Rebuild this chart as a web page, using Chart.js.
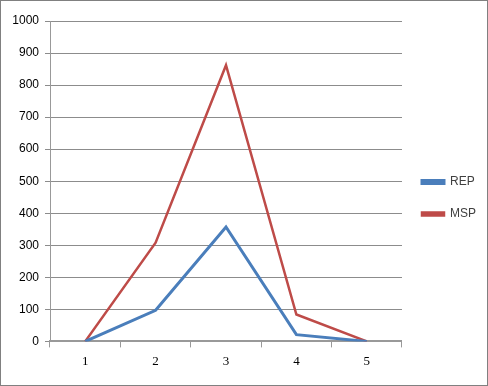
<!DOCTYPE html>
<html>
<head>
<meta charset="utf-8">
<script src="https://cdn.jsdelivr.net/npm/chart.js@4/dist/chart.umd.min.js"></script>
<style>
  html, body { margin: 0; padding: 0; background: #fff; }
  #wrap { width: 486px; height: 384px; border: 1px solid #808080; }
</style>
</head>
<body>
<div id="wrap"><canvas id="grafico" width="486" height="384"></canvas></div>
<script>
// datos del grafico
var categorias = ['1', '2', '3', '4', '5'];
var valoresREP = [0, 97, 357, 21, 0];
var valoresMSP = [0, 308, 862, 84, 0];
var ticksY = [0, 100, 200, 300, 400, 500, 600, 700, 800, 900, 1000];

var ctx = document.getElementById('grafico');

var dataLineas = {
    labels: categorias,
    datasets: [
        {
            label: 'REP',
            data: valoresREP,
            borderColor: '#4a7ebb',
            backgroundColor: '#4a7ebb',
            borderWidth: 3,
            pointRadius: 0,
            tension: 0
        },
        {
            label: 'MSP',
            data: valoresMSP,
            borderColor: '#be4b48',
            backgroundColor: '#be4b48',
            borderWidth: 2.5,
            pointRadius: 0,
            tension: 0
        }
    ]
};

var opciones = {
    responsive: false,
    animation: false,
    layout: { padding: { top: 20, right: 1, bottom: 10, left: 0 } },
    plugins: {
        tooltip: { enabled: false },
        legend: {
            position: 'right',
            labels: {
                boxWidth: 22,
                boxHeight: 3,
                padding: 20,
                color: '#404040',
                font: { family: 'Liberation Sans', size: 12 }
            }
        }
    },
    scales: {
        x: {
            offset: true,
            grid: {
                offset: true,
                drawOnChartArea: false,
                drawTicks: true,
                tickLength: 6,
                color: '#999999'
            },
            border: { color: '#999999', width: 2 },
            ticks: {
                color: '#000',
                padding: 6,
                font: { family: 'Liberation Serif', size: 13 }
            }
        },
        y: {
            min: 0,
            max: 1000,
            afterBuildTicks: function (s) {
                s.ticks = ticksY.map(function (v) { return { value: v }; });
            },
            afterFit: function (s) { s.width = 49; },
            grid: {
                color: '#8c8c8c',
                tickLength: 5,
                drawTicks: true
            },
            border: { color: '#999999', width: 1 },
            ticks: {
                color: '#000',
                padding: 6,
                font: { family: 'Liberation Sans', size: 12 },
                callback: function (v) { return String(v); }
            }
        }
    }
};

var miGrafico = new Chart(ctx, {
    type: 'line',
    data: dataLineas,
    options: opciones
});
</script>
</body>
</html>
